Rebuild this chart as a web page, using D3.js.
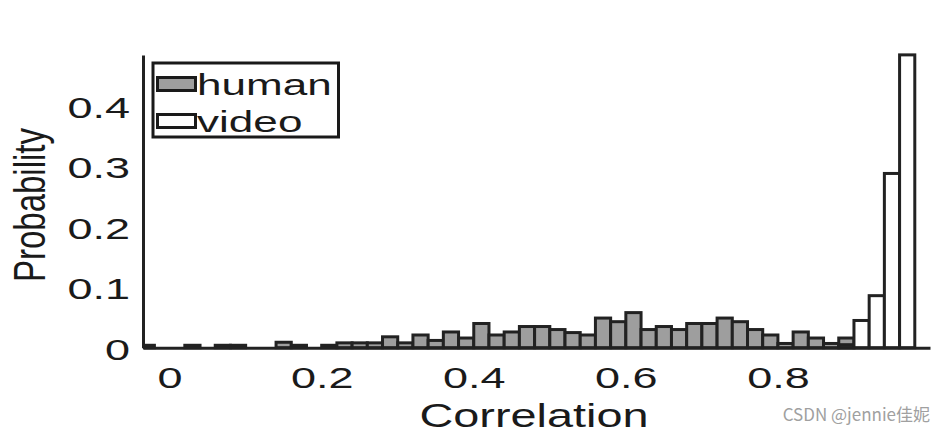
<!DOCTYPE html>
<html>
<head>
<meta charset="utf-8">
<script src="https://cdn.jsdelivr.net/npm/d3@7"></script>
<style>
  html, body { margin: 0; padding: 0; background: #fff; }
  svg { display: block; }
  text { font-family: "Liberation Sans", Arial, Helvetica, sans-serif; fill: #1a1a1a; }
</style>
</head>
<body>
<svg id="chart" width="945" height="435"></svg>
<script>
// ---- data (bin width 0.02, value = left edge of bin) ----
const binWidth = 0.02;
const humanBins = [-0.04,-0.02,0.00,0.02,0.04,0.06,0.08,0.10,0.12,0.14,0.16,0.18,0.20,0.22,0.24,0.26,0.28,0.30,0.32,0.34,0.36,0.38,0.40,0.42,0.44,0.46,0.48,0.50,0.52,0.54,0.56,0.58,0.60,0.62,0.64,0.66,0.68,0.70,0.72,0.74,0.76,0.78,0.80,0.82,0.84,0.86,0.88];
const humanValues = [0.004,0,0,0.004,0,0.004,0.004,0,0,0.009,0.004,0,0.004,0.008,0.008,0.008,0.018,0.008,0.021,0.012,0.026,0.016,0.040,0.021,0.026,0.035,0.035,0.030,0.025,0.021,0.049,0.043,0.058,0.030,0.035,0.030,0.040,0.040,0.049,0.043,0.030,0.021,0.007,0.026,0.016,0.007,0.016];
const videoBins = [0.88,0.90,0.92,0.94,0.96];
const videoValues = [0.005,0.045,0.086,0.288,0.484];
const xTicks = [0,0.2,0.4,0.6,0.8];
const xTickLabels = ["0","0.2","0.4","0.6","0.8"];
const yTicks = [0,0.1,0.2,0.3,0.4];
const yTickLabels = ["0","0.1","0.2","0.3","0.4"];
const seriesNames = ["human","video"];
const seriesFills = ["#9e9e9e","#ffffff"];

// ---- layout ----
const svg = d3.select("#chart");
const x = d3.scaleLinear().domain([-0.035, 1.0]).range([143, 930]);
const y = d3.scaleLinear().domain([0, 0.4838]).range([347.7, 55]);
const SX = 1.5;

svg.append("defs").append("clipPath").attr("id","plotclip")
  .append("rect").attr("x",143).attr("y",0).attr("width",800).attr("height",352);

const bars = svg.append("g").attr("clip-path","url(#plotclip)");
function drawSeries(bins, vals, fill) {
  const data = bins.map((b,i)=>({b, v: vals[i]})).filter(d => d.v > 0);
  bars.append("g").selectAll("rect").data(data).join("rect")
    .attr("x", d => x(d.b))
    .attr("width", d => x(d.b + binWidth) - x(d.b))
    .attr("y", d => y(d.v))
    .attr("height", d => y(0) - y(d.v))
    .attr("fill", fill)
    .attr("stroke", "#222")
    .attr("stroke-width", 3);
}
drawSeries(humanBins, humanValues, seriesFills[0]);
drawSeries(videoBins, videoValues, seriesFills[1]);

// ---- axes ----
const yAxis = svg.append("g").attr("transform", `translate(${x.range()[0]},0)`)
  .call(d3.axisLeft(y).tickValues(yTicks).tickFormat((d,i)=>yTickLabels[i]).tickSize(0).tickSizeOuter(0));
yAxis.select(".domain").attr("stroke","#222").attr("stroke-width",3);
yAxis.selectAll(".tick text")
  .attr("x",0).attr("dy",null).attr("y",null)
  .attr("dominant-baseline","central")
  .attr("font-size",30).attr("fill","#1a1a1a")
  .attr("transform","translate(-13,1) scale(" + SX + ",1)");

const xAxis = svg.append("g").attr("transform", `translate(0,${y(0)})`)
  .call(d3.axisBottom(x).tickValues(xTicks).tickFormat((d,i)=>xTickLabels[i]).tickSize(0).tickSizeOuter(0));
xAxis.select(".domain").attr("stroke","#222").attr("stroke-width",3);
xAxis.selectAll(".tick text")
  .attr("y",0).attr("dy",null)
  .attr("font-size",30).attr("fill","#1a1a1a")
  .attr("transform","translate(0,40.5) scale(" + SX + ",1)");

// ---- axis titles ----
svg.append("text").text("Correlation")
  .attr("text-anchor","middle").attr("font-size",33)
  .attr("transform","translate(534,427) scale(1.42,1)");
svg.append("text").text("Probability")
  .attr("text-anchor","middle").attr("font-size",33)
  .attr("transform","translate(45,205) scale(1.35,1) rotate(-90)");

// ---- legend ----
const leg = svg.append("g");
leg.append("rect").attr("x",153).attr("y",63).attr("width",185.5).attr("height",74)
  .attr("fill","#fff").attr("stroke","#1a1a1a").attr("stroke-width",3);
const legRows = [95, 132];
seriesNames.forEach((name,i) => {
  leg.append("rect").attr("x",157.5).attr("y",legRows[i]-17.5).attr("width",38).attr("height",13)
    .attr("fill",seriesFills[i]).attr("stroke","#1a1a1a").attr("stroke-width",3);
  leg.append("text").text(name).attr("font-size",30)
    .attr("transform",`translate(197,${legRows[i]}) scale(1.47,1)`);
});

// ---- watermark ----
svg.append("text").text("CSDN @jennie佳妮")
  .attr("text-anchor","end")
  .attr("x",930).attr("y",421)
  .attr("font-size",17)
  .style("font-family","'Noto Sans CJK SC', 'Noto Sans', sans-serif")
  .style("fill","#a0a0a0");
</script>
</body>
</html>
